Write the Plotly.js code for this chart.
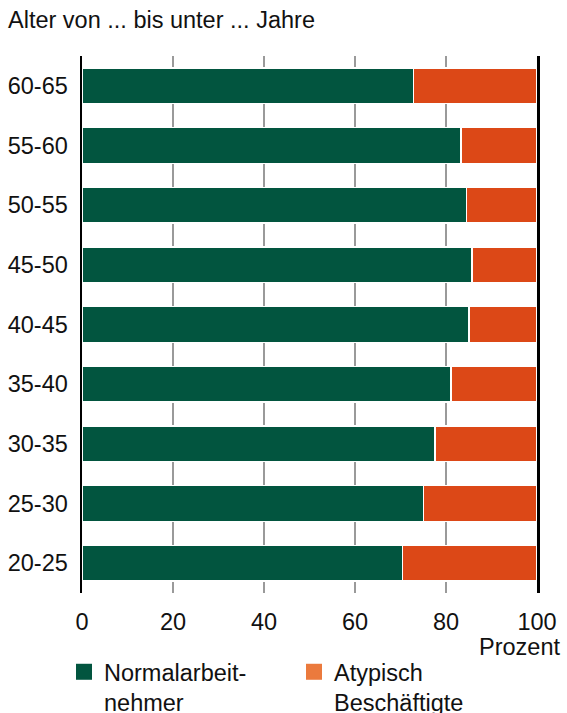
<!DOCTYPE html>
<html>
<head>
<meta charset="utf-8">
<script src="https://cdn.plot.ly/plotly-3.0.1.min.js"></script>
<style>html,body{margin:0;padding:0;background:#fff}#chart{width:567px;height:713px}</style>
</head>
<body>
<div id="chart"></div>
<script>
const categories = ['20-25','25-30','30-35','35-40','40-45','45-50','50-55','55-60','60-65'];
const normalarbeitnehmer = [70.4, 75.1, 77.6, 81.1, 85.1, 85.7, 84.5, 83.3, 72.9];
const atypisch = [29.6, 24.9, 22.4, 18.9, 14.9, 14.3, 15.5, 16.7, 27.1];
const xTicks = [0, 20, 40, 60, 80, 100];
const seriesNames = ['Normalarbeit-<br>nehmer', 'Atypisch<br>Beschäftigte'];

const green = '#02553F';
const orange = '#DC4817';
const orangeLegend = '#EB7A3D';
const font = 'Liberation Sans, Arial, sans-serif';
const fs = 23.5;

const data = [
  {type:'bar', orientation:'h', y:categories, x:normalarbeitnehmer, name:seriesNames[0],
   marker:{color:green, line:{color:'#ffffff', width:1.5}}, showlegend:false, hoverinfo:'x+y'},
  {type:'bar', orientation:'h', y:categories, x:atypisch, name:seriesNames[1],
   marker:{color:orange, line:{color:'#ffffff', width:1.5}}, showlegend:false, hoverinfo:'x+y'},
  {type:'scatter', mode:'markers', x:[null], y:[null], name:seriesNames[0], showlegend:true,
   legend:'legend', marker:{symbol:'square', size:19, color:green}},
  {type:'scatter', mode:'markers', x:[null], y:[null], name:seriesNames[1], showlegend:true,
   legend:'legend2', marker:{symbol:'square', size:19, color:orangeLegend}}
];

const legendBase = {xref:'container', yref:'container', xanchor:'left', yanchor:'top', valign:'top',
  font:{family:font, size:fs, color:'#111'}, bgcolor:'rgba(0,0,0,0)', borderwidth:0};

const layout = {
  width:567, height:713,
  margin:{l:82, r:30, t:56, b:120, autoexpand:false},
  paper_bgcolor:'#fff', plot_bgcolor:'#fff',
  font:{family:font, size:fs, color:'#111'},
  barmode:'stack', bargap:0.4,
  title:{text:'Alter von ... bis unter ... Jahre', x:8/567, xanchor:'left', xref:'container',
         y:1-12/713, yanchor:'top', yref:'container', font:{family:font, size:fs, color:'#111'}},
  xaxis:{range:[0,100], tickvals:xTicks, ticktext:xTicks.map(String), showgrid:true,
         gridcolor:'#9a9a9a', gridwidth:2, zeroline:false, showline:false, ticks:'',
         ticklabelstandoff:12, fixedrange:true, automargin:false},
  yaxis:{type:'category', showline:true, mirror:true, linecolor:'#000', linewidth:2.5,
         ticks:'', ticklabelstandoff:7, showgrid:false, zeroline:false, fixedrange:true, automargin:false},
  showlegend:true,
  legend:Object.assign({}, legendBase, {x:64/567, y:1-650/713}),
  legend2:Object.assign({}, legendBase, {x:294/567, y:1-650/713}),
  annotations:[{text:'Prozent', xref:'paper', yref:'paper', x:1, y:0, xanchor:'right', yanchor:'top',
                xshift:25, yshift:-39, showarrow:false, font:{family:font, size:fs, color:'#111'}}]
};

Plotly.newPlot('chart', data, layout, {displayModeBar:false, staticPlot:true});
</script>
</body>
</html>
